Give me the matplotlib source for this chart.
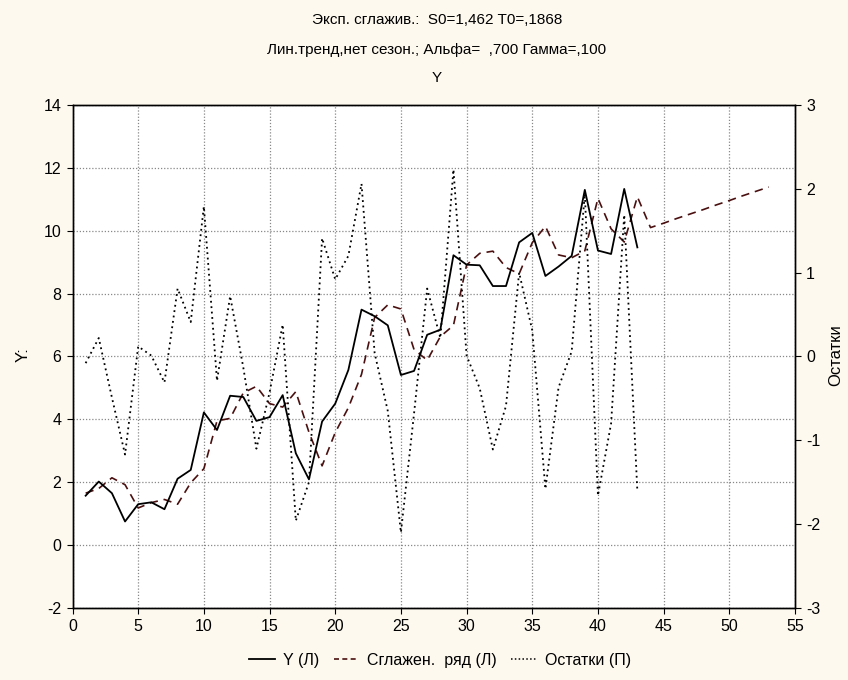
import matplotlib
matplotlib.use("Agg")
import matplotlib.pyplot as plt
from matplotlib.lines import Line2D

plt.rcParams['font.family'] = ['Liberation Sans Narrow', 'Liberation Sans', 'DejaVu Sans']
plt.rcParams['axes.unicode_minus'] = False

# ---- data ----
y_obs = [1.57, 2.02, 1.65, 0.75, 1.30, 1.36, 1.14, 2.11, 2.39, 4.22,
         3.66, 4.75, 4.71, 3.95, 4.07, 4.77, 2.92, 2.09, 3.93, 4.50,
         5.57, 7.49, 7.28, 6.99, 5.41, 5.54, 6.69, 6.85, 9.22, 8.92,
         8.90, 8.24, 8.24, 9.63, 9.93, 8.56, 8.86, 9.20, 11.30, 9.37,
         9.26, 11.33, 9.47]
smoothed = [1.65, 1.80, 2.14, 1.92, 1.18, 1.35, 1.45, 1.30, 1.98, 2.43,
            3.95, 4.03, 4.84, 5.05, 4.50, 4.39, 4.88, 3.59, 2.52, 3.58,
            4.37, 5.43, 7.24, 7.64, 7.51, 6.22, 5.88, 6.63, 6.99, 8.91,
            9.28, 9.35, 8.83, 8.63, 9.62, 10.14, 9.23, 9.14, 9.36, 11.03,
            10.06, 9.64, 11.08, 10.10, 10.24, 10.39, 10.53, 10.67, 10.82, 10.96,
            11.11, 11.25, 11.39]
residuals = [-0.08, 0.22, -0.49, -1.17, 0.12, 0.01, -0.31, 0.81, 0.41, 1.79,
             -0.29, 0.72, -0.13, -1.10, -0.43, 0.38, -1.96, -1.50, 1.41, 0.92,
             1.20, 2.06, 0.04, -0.65, -2.10, -0.68, 0.81, 0.22, 2.23, 0.01,
             -0.38, -1.11, -0.59, 1.00, 0.31, -1.58, -0.37, 0.06, 1.94, -1.66,
             -0.80, 1.69, -1.61]

x_obs = list(range(1, len(y_obs) + 1))
x_smooth = list(range(1, len(smoothed) + 1))
x_res = list(range(1, len(residuals) + 1))

x_ticks = [0, 5, 10, 15, 20, 25, 30, 35, 40, 45, 50, 55]
y_ticks = [-2, 0, 2, 4, 6, 8, 10, 12, 14]
y2_ticks = [-3, -2, -1, 0, 1, 2, 3]

title1 = "Эксп. сглажив.:  S0=1,462 T0=,1868"
title2 = "Лин.тренд,нет сезон.; Альфа=  ,700 Гамма=,100"
title3 = "Y"

# ---- figure ----
fig = plt.figure(figsize=(8.48, 6.8), dpi=100, facecolor='#fdf9ef')
ax = fig.add_axes([0.0855, 0.106, 0.852, 0.7396])
ax.set_facecolor('white')
ax2 = ax.twinx()

dash_col = '#4a1010'
ax.plot(x_obs, y_obs, color='black', lw=1.3, linestyle='-', zorder=4)
ax.plot(x_smooth, smoothed, color=dash_col, lw=1.2, linestyle=(0, (5, 3.5)), zorder=3)
ax2.plot(x_res, residuals, color='black', lw=1.3, linestyle=(0, (1, 2)), zorder=2)

ax.set_xlim(0, 55)
ax.set_ylim(-2, 14)
ax2.set_ylim(-3, 3)
ax.set_xticks(x_ticks)
ax.set_yticks(y_ticks)
ax2.set_yticks(y2_ticks)

ax.grid(True, color='#888888', linestyle=(0, (1, 1.5)), lw=0.9)
ax.set_axisbelow(True)

for a in (ax, ax2):
    for s in a.spines.values():
        s.set_color('black')
        s.set_linewidth(1.0)
ax.tick_params(axis='both', direction='out', length=4, width=0.8,
               labelsize=11.5, colors='black', pad=4)
ax2.tick_params(axis='y', direction='out', length=4, width=0.8,
                labelsize=11.5, colors='black', pad=4)

fig.text(0.515, 0.970, title1, ha='center', va='center', fontsize=11)
fig.text(0.515, 0.926, title2, ha='center', va='center', fontsize=11)
fig.text(0.515, 0.885, title3, ha='center', va='center', fontsize=11)

fig.text(0.027, 0.478, "Y:", rotation=90, ha='center', va='center', fontsize=12)
fig.text(0.986, 0.478, "Остатки", rotation=90, ha='center', va='center', fontsize=12)

handles = [
    Line2D([], [], color='black', lw=1.3, linestyle='-'),
    Line2D([], [], color=dash_col, lw=1.2, linestyle=(0, (3, 2))),
    Line2D([], [], color='black', lw=1.1, linestyle=(0, (1, 1.5))),
]
labels = ["Y (Л)", "Сглажен.  ряд (Л)", "Остатки (П)"]
fig.legend(handles, labels, loc='center', bbox_to_anchor=(0.519, 0.029),
           ncol=3, frameon=False, fontsize=11.5, handlelength=1.6,
           handletextpad=0.5, columnspacing=0.9)

fig.savefig("out.png", dpi=100, facecolor=fig.get_facecolor())
